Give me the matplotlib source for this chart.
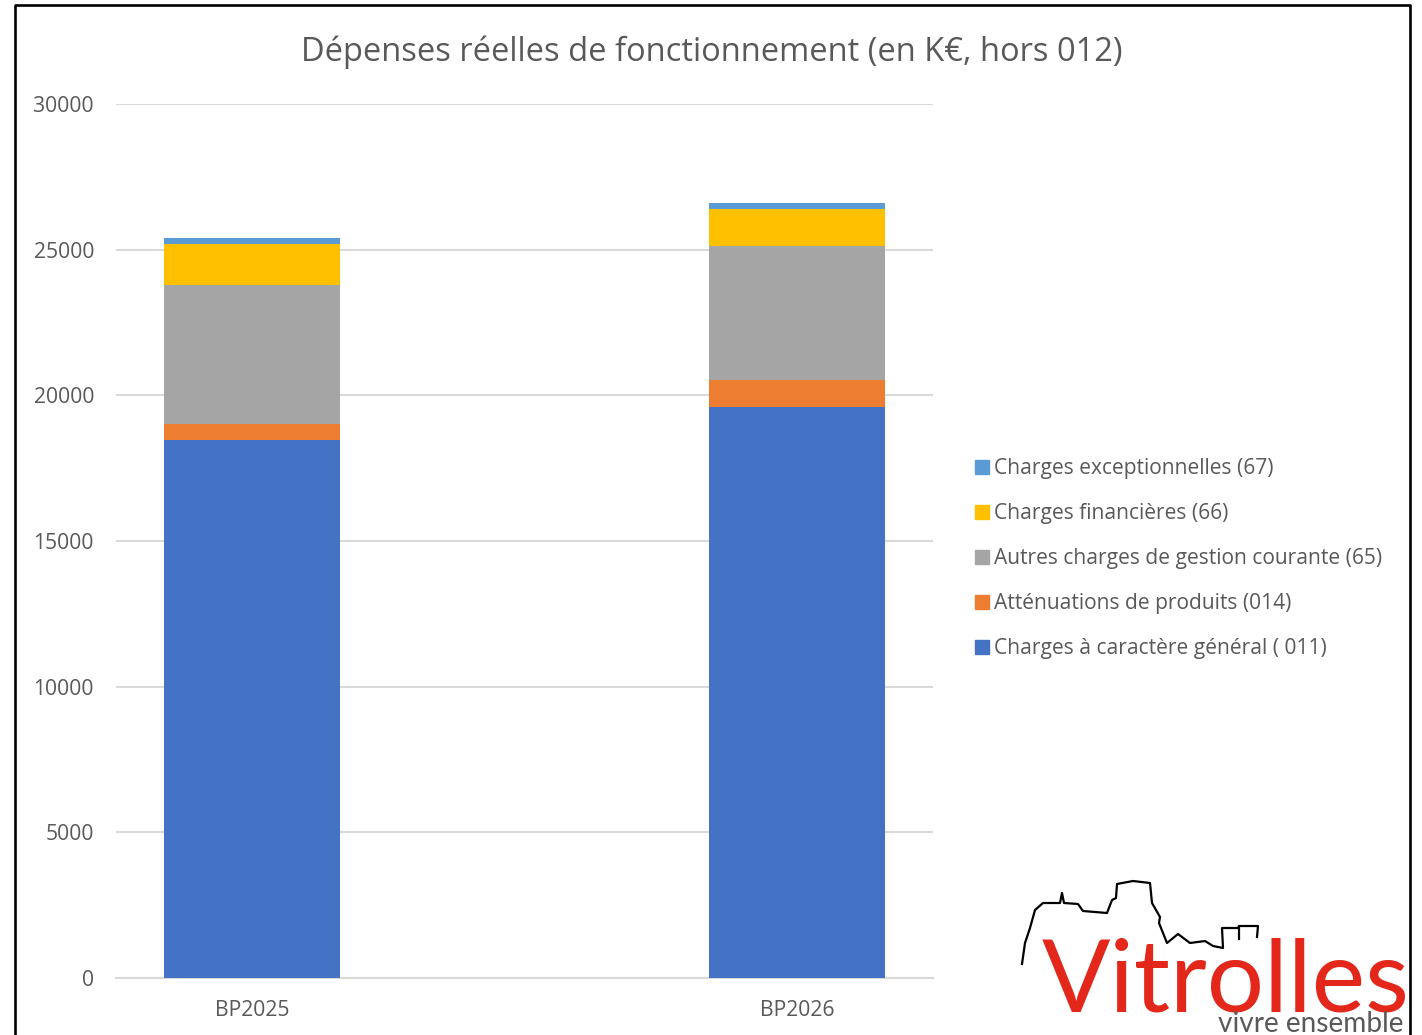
import matplotlib
matplotlib.use("Agg")
import matplotlib.pyplot as plt
from matplotlib.patches import Rectangle

W, H = 1422, 1035
categories = ["BP2025", "BP2026"]
series_names = ["Charges à caractère général ( 011)", "Atténuations de produits (014)",
                "Autres charges de gestion courante (65)", "Charges financières (66)",
                "Charges exceptionnelles (67)"]
general = [18480, 19600]
attenuations = [520, 930]
autres = [4790, 4600]
financieres = [1420, 1280]
exceptionnelles = [190, 190]
yticks = [0, 5000, 10000, 15000, 20000, 25000, 30000]
colors = ["#4472C4", "#ED7D31", "#A5A5A5", "#FFC000", "#5B9BD5"]
title = "Dépenses réelles de fonctionnement (en K€, hors 012)"
logo_text = "Vitrolles"
logo_sub = "vivre ensemble"
skyline_x = [1022, 1025, 1030, 1035, 1043, 1060, 1062, 1064, 1078, 1083, 1107, 1112, 1116, 1117, 1133, 1150, 1152, 1160, 1159, 1167, 1178, 1190, 1205, 1213, 1223, 1222, 1238, 1239, 1258, 1257]
skyline_y = [964, 943, 928, 910, 903, 903, 893, 903, 904, 911, 913, 900, 898, 884, 881, 883, 903, 917, 923, 943, 934, 943, 941, 946, 948, 928, 928, 926, 926, 937]

plt.rcParams['font.family'] = ['Open Sans', 'DejaVu Sans']
fig = plt.figure(figsize=(W/100, H/100), dpi=100, facecolor='white')
ax = fig.add_axes([116/W, 1-978/H, (933-116)/W, (978-104)/H])
ax.set_xlim(-0.2495, 1.2495)
ax.set_ylim(0, 30000)
bottom = [0, 0]
for vals, c, n in zip([general, attenuations, autres, financieres, exceptionnelles], colors, series_names):
    ax.bar(range(2), vals, 0.323, bottom=bottom, color=c, label=n, zorder=3)
    bottom = [a + v for a, v in zip(bottom, vals)]
ax.set_xticks(range(2), categories)
ax.set_yticks(yticks)
ax.tick_params(length=0, labelsize=15.2, labelcolor='#595959')
ax.tick_params(axis='y', pad=15.8)
ax.tick_params(axis='x', pad=16.2)
ax.grid(axis='y', color='#D9D9D9', lw=1.5, zorder=0)
for s in ['top', 'left', 'right']:
    ax.spines[s].set_visible(False)
ax.spines['bottom'].set_color('#D9D9D9')
ax.spines['bottom'].set_linewidth(1.5)
fig.text(712/W, 1-52/H, title, fontsize=23.5, color='#595959', ha='center', va='center')

ly = [648.5, 603.5, 558.5, 513.5, 468.5]
for y, c, n in zip(ly, colors, series_names):
    fig.add_artist(Rectangle((975/W, 1-(y+5.5)/H), 14/W, 14/H, transform=fig.transFigure, color=c))
    fig.text(994/W, 1-y/H, n, fontsize=15.15, color='#595959', va='center', ha='left')

# outer frame
fig.add_artist(plt.Line2D([15/W, 15/W, 1410/W, 1410/W], [0, 1-5/H, 1-5/H, 0], transform=fig.transFigure, color='black', lw=1.9))
# logo
fig.add_artist(plt.Line2D([x/W for x in skyline_x], [1-y/H for y in skyline_y], transform=fig.transFigure, color='black', lw=1.6))
fig.add_artist(plt.Line2D([1239/W, 1239/W], [1-928/H, 1-939/H], transform=fig.transFigure, color='black', lw=1.6))
fig.text(1225.5/W, 1-1012/H, logo_text, fontsize=72.8, color='#E3281B', ha='center', va='baseline', family=['Lato'])
fig.text(1311/W, 1-1032/H, logo_sub, fontsize=20.2, color='#595959', ha='center', va='baseline', family=['Lato'])
fig.savefig('out.png', dpi=100)
